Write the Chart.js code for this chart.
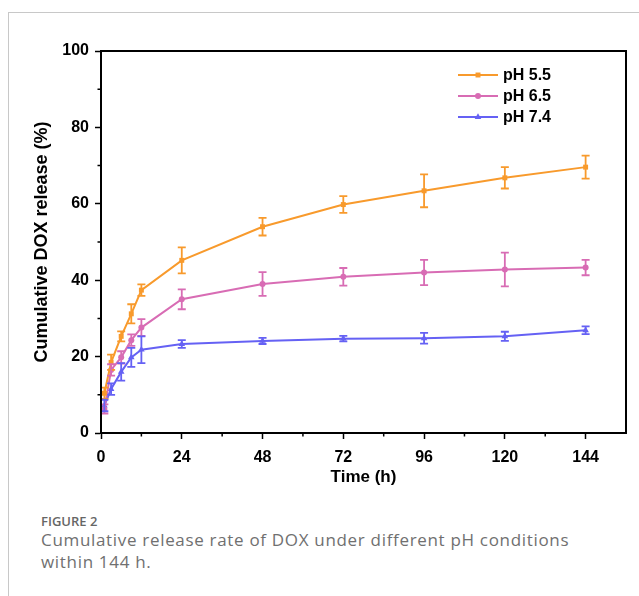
<!DOCTYPE html>
<html>
<head>
<meta charset="utf-8">
<script src="https://cdn.jsdelivr.net/npm/chart.js@4.4.0/dist/chart.umd.min.js"></script>
<style>
    body { margin: 0; background: #fff; width: 639px; height: 596px; overflow: hidden; position: relative; }
    #frame { position: absolute; left: 8px; top: 12px; width: 640px; height: 600px; border-top: 1px solid #c8c8c8; border-left: 1px solid #c8c8c8; }
    #wrap { position: absolute; left: 0; top: 0; width: 639px; height: 500px; }
    .fig { position: absolute; left: 41px; top: 512px; font: 600 13px "Open Sans", sans-serif; color: #666; }
    .cap { position: absolute; left: 41px; top: 529px; width: 580px; font: 400 17px/22px "Open Sans", sans-serif; color: #707070; letter-spacing: 0.68px; }
</style>
</head>
<body>
<div id="frame"></div>
<div id="wrap"><canvas id="releaseChart"></canvas></div>
<div class="fig">FIGURE 2</div>
<div class="cap">Cumulative release rate of DOX under different pH conditions<br>within 144 h.</div>

<script>
// Data
const times = [1, 3, 6, 9, 12, 24, 48, 72, 96, 120, 144];
const ph55 = [10.4, 18.5, 25.3, 31.2, 37.4, 45.2, 54.0, 59.8, 63.4, 66.8, 69.6];
const ph55Err = [1.5, 2.0, 1.3, 2.5, 1.5, 3.4, 2.3, 2.2, 4.3, 2.8, 3.0];
const ph65 = [6.3, 16.5, 19.8, 24.3, 27.6, 35.0, 39.0, 40.9, 42.0, 42.8, 43.3];
const ph65Err = [1.2, 1.5, 1.6, 1.5, 2.2, 2.6, 3.1, 2.3, 3.3, 4.4, 2.0];
const ph74 = [7.2, 11.5, 16.0, 19.8, 21.8, 23.3, 24.1, 24.7, 24.8, 25.3, 26.9];
const ph74Err = [1.5, 1.5, 2.3, 2.5, 3.5, 1.0, 0.8, 0.7, 1.4, 1.2, 1.0];
const xTicks = [0, 24, 48, 72, 96, 120, 144];
const yTicks = [0, 20, 40, 60, 80, 100];

const orange = '#F89A2C';
const pink = '#D86CB4';
const blue = '#6561F4';
const boldFont = '"Liberation Sans", Arial, sans-serif';

const series = [
    { label: 'pH 5.5', values: ph55, errs: ph55Err, color: orange, style: 'rect', radius: 3.5 },
    { label: 'pH 6.5', values: ph65, errs: ph65Err, color: pink, style: 'circle', radius: 3 },
    { label: 'pH 7.4', values: ph74, errs: ph74Err, color: blue, style: 'triangle', radius: 3.8 }
];

// Error bars, frame, minor ticks and legend
const extras = {
    id: 'extras',
    afterDatasetsDraw(chart) {
        const ctx = chart.ctx;
        const xs = chart.scales.x, ys = chart.scales.y;
        ctx.save();
        series.forEach(s => {
            ctx.strokeStyle = s.color;
            ctx.lineWidth = 1.8;
            s.values.forEach((v, i) => {
                const x = xs.getPixelForValue(times[i]);
                const top = ys.getPixelForValue(v + s.errs[i]);
                const bot = ys.getPixelForValue(v - s.errs[i]);
                ctx.beginPath();
                ctx.moveTo(x, top); ctx.lineTo(x, bot);
                ctx.moveTo(x - 4, top); ctx.lineTo(x + 4, top);
                ctx.moveTo(x - 4, bot); ctx.lineTo(x + 4, bot);
                ctx.stroke();
            });
        });
        ctx.restore();
    },
    afterDraw(chart) {
        const ctx = chart.ctx;
        const a = chart.chartArea;
        const xs = chart.scales.x, ys = chart.scales.y;
        ctx.save();
        ctx.strokeStyle = '#000';
        ctx.lineWidth = 2;
        ctx.strokeRect(a.left, a.top, a.right - a.left, a.bottom - a.top);
        // minor ticks
        ctx.lineWidth = 1.5;
        ctx.beginPath();
        for (let v = 12; v < 156; v += 24) {
            const x = xs.getPixelForValue(v);
            ctx.moveTo(x, a.bottom); ctx.lineTo(x, a.bottom + 3.5);
        }
        for (let v = 10; v < 100; v += 20) {
            const y = ys.getPixelForValue(v);
            ctx.moveTo(a.left, y); ctx.lineTo(a.left - 3.5, y);
        }
        ctx.stroke();
        // legend
        ctx.font = 'bold 16px ' + boldFont;
        ctx.textBaseline = 'middle';
        series.forEach((s, i) => {
            const y = 75 + i * 21;
            ctx.strokeStyle = s.color;
            ctx.lineWidth = 2;
            ctx.beginPath();
            ctx.moveTo(458, y); ctx.lineTo(498, y);
            ctx.stroke();
            ctx.fillStyle = s.color;
            Chart.helpers.drawPoint(ctx, { pointStyle: s.style, radius: s.radius, borderWidth: 0 }, 478, y);
            ctx.fillStyle = '#000';
            ctx.fillText(s.label, 503, y + 1);
        });
        ctx.restore();
    }
};

new Chart(document.getElementById('releaseChart'), {
    type: 'line',
    data: {
        datasets: series.map(s => ({
            label: s.label,
            data: times.map((t, i) => ({ x: t, y: s.values[i] })),
            borderColor: s.color,
            backgroundColor: s.color,
            borderWidth: 2,
            pointStyle: s.style,
            pointRadius: s.radius,
            pointBorderWidth: 0,
            tension: 0
        }))
    },
    options: {
        responsive: true,
        maintainAspectRatio: false,
        animation: false,
        layout: { padding: { left: 30, right: 13, top: 51, bottom: 10 } },
        plugins: { legend: { display: false }, tooltip: { enabled: false } },
        scales: {
            x: {
                type: 'linear',
                min: 0,
                max: 156,
                afterBuildTicks: s => { s.ticks = xTicks.map(v => ({ value: v })); },
                afterFit: s => { s.height = 57; },
                grid: { drawOnChartArea: false, tickLength: 6, tickWidth: 1.5, tickColor: '#000' },
                border: { color: '#000', width: 2 },
                ticks: { color: '#000', padding: 9, maxRotation: 0, font: { family: boldFont, size: 16, weight: 'bold' } },
                title: { display: true, text: 'Time (h)', color: '#000', padding: { top: 0, bottom: 2 }, font: { family: boldFont, size: 17, weight: 'bold' } }
            },
            y: {
                min: 0,
                max: 100,
                afterBuildTicks: s => { s.ticks = yTicks.map(v => ({ value: v })); },
                afterFit: s => { s.width = 71; },
                grid: { drawOnChartArea: false, tickLength: 6, tickWidth: 1.5, tickColor: '#000' },
                border: { color: '#000', width: 2 },
                ticks: { color: '#000', padding: 6, font: { family: boldFont, size: 16, weight: 'bold' } },
                title: { display: true, text: 'Cumulative DOX release (%)', color: '#000', padding: { top: 1, bottom: 0 }, font: { family: boldFont, size: 18, weight: 'bold' } }
            }
        }
    },
    plugins: [extras]
});
</script>
</body>
</html>
